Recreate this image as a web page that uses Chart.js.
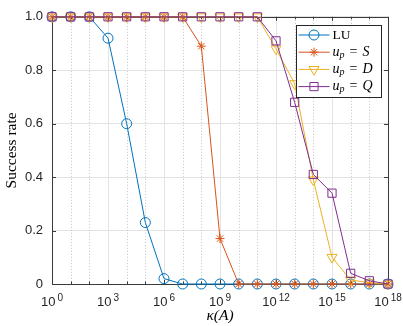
<!DOCTYPE html>
<html>
<head>
<meta charset="utf-8">
<script src="https://cdn.jsdelivr.net/npm/chart.js@4/dist/chart.umd.min.js"></script>
<style>
  html, body { margin: 0; padding: 0; background: #fff; }
</style>
</head>
<body>
<canvas id="grafica" width="403" height="326"></canvas>
<script>
// kappa(A) values, one per decade
const kappa = [1e0, 1e1, 1e2, 1e3, 1e4, 1e5, 1e6, 1e7, 1e8, 1e9,
               1e10, 1e11, 1e12, 1e13, 1e14, 1e15, 1e16, 1e17, 1e18];

// success rate
const exitoLU = [1, 1, 1, 0.92, 0.60, 0.23, 0.02, 0, 0, 0, 0, 0, 0, 0, 0, 0, 0, 0, 0];
const exitoS  = [1, 1, 1, 1, 1, 1, 1, 1, 0.89, 0.17, 0, 0, 0, 0, 0, 0, 0, 0, 0];
const exitoD  = [1, 1, 1, 1, 1, 1, 1, 1, 1, 1, 1, 1, 0.88, 0.75, 0.39, 0.10, 0.015, 0.005, 0];
const exitoQ  = [1, 1, 1, 1, 1, 1, 1, 1, 1, 1, 1, 1, 0.91, 0.68, 0.41, 0.34, 0.04, 0.012, 0];

const nombres = ["LU", "u_p = S", "u_p = D", "u_p = Q"];
const series = [exitoLU, exitoS, exitoD, exitoQ];

const colores = ["#0072BD", "#D95319", "#EDB120", "#7E2F8E"];
const marcadores = ["circle", "star", "triangle", "rect"];
const radios = [5, 4.5, 5.8, 5.8];
const rotaciones = [0, 0, 180, 0];

const ticksY = [0, 0.2, 0.4, 0.6, 0.8, 1];

function exponente(v) {
  return Math.round(Math.log10(v));
}

// dotted minor grid, inward ticks, the box round the axes and the x labels
const pluginEjes = {
  id: "ejes",
  beforeDatasetsDraw(chart) {
    const { ctx, chartArea: a, scales } = chart;
    ctx.save();
    ctx.lineWidth = 1;
    ctx.strokeStyle = "#c4c4c4";
    ctx.setLineDash([1, 2]);
    kappa.forEach((k) => {
      if (exponente(k) % 3 === 0) return;
      const x = Math.round(scales.x.getPixelForValue(k)) + 0.5;
      ctx.beginPath();
      ctx.moveTo(x, a.top);
      ctx.lineTo(x, a.bottom);
      ctx.stroke();
    });
    ctx.setLineDash([]);

    ctx.strokeStyle = "#3a3a3a";
    kappa.forEach((k) => {
      const x = Math.round(scales.x.getPixelForValue(k)) + 0.5;
      const largo = exponente(k) % 3 === 0 ? 4 : 2.5;
      ctx.beginPath();
      ctx.moveTo(x, a.bottom);
      ctx.lineTo(x, a.bottom - largo);
      ctx.moveTo(x, a.top);
      ctx.lineTo(x, a.top + largo);
      ctx.stroke();
    });
    ticksY.forEach((t) => {
      const y = Math.round(scales.y.getPixelForValue(t)) + 0.5;
      ctx.beginPath();
      ctx.moveTo(a.left, y);
      ctx.lineTo(a.left + 4, y);
      ctx.moveTo(a.right, y);
      ctx.lineTo(a.right - 4, y);
      ctx.stroke();
    });
    ctx.strokeRect(Math.round(a.left) + 0.5, Math.round(a.top) + 0.5,
                   Math.round(a.right - a.left), Math.round(a.bottom - a.top));

    // 10^e labels with a raised exponent
    ctx.fillStyle = "#262626";
    ctx.textAlign = "left";
    ctx.textBaseline = "alphabetic";
    kappa.forEach((k) => {
      const e = exponente(k);
      if (e % 3 !== 0) return;
      const x = scales.x.getPixelForValue(k);
      ctx.font = '13px "Liberation Sans"';
      const anchoBase = ctx.measureText("10").width;
      ctx.font = '10px "Liberation Sans"';
      const anchoExp = ctx.measureText(String(e)).width;
      const inicio = x - (anchoBase + 2 + anchoExp) / 2;
      ctx.font = '13px "Liberation Sans"';
      ctx.fillText("10", inicio, a.bottom + 22);
      ctx.font = '10px "Liberation Sans"';
      ctx.fillText(String(e), inicio + anchoBase + 2, a.bottom + 16.5);
    });
    ctx.restore();
  },
};

function dibujarNombre(ctx, texto, x, y) {
  if (texto.indexOf("_") < 0) {
    ctx.font = '13.5px "Liberation Serif"';
    ctx.fillText(texto, x, y);
    return;
  }
  const partes = texto.split(" = ");
  const base = partes[0].split("_");
  ctx.font = 'italic 14px "Liberation Serif"';
  ctx.fillText(base[0], x, y);
  x += ctx.measureText(base[0]).width;
  ctx.font = 'italic 10px "Liberation Serif"';
  ctx.fillText(base[1], x, y + 3);
  x += ctx.measureText(base[1]).width + 5;
  ctx.font = '14px "Liberation Serif"';
  ctx.fillText("=", x, y);
  x += ctx.measureText("=").width + 5;
  ctx.font = 'italic 14px "Liberation Serif"';
  ctx.fillText(partes[1], x, y);
}

const pluginLeyenda = {
  id: "leyenda",
  afterDraw(chart) {
    const { ctx, chartArea: a } = chart;
    const ancho = 85, alto = 72;
    const x0 = Math.round(a.right - 7 - ancho) + 0.5;
    const y0 = Math.round(a.top + 8) + 0.5;
    ctx.save();
    ctx.fillStyle = "#fff";
    ctx.fillRect(x0, y0, ancho, alto);
    ctx.strokeStyle = "#262626";
    ctx.lineWidth = 1;
    ctx.strokeRect(x0, y0, ancho, alto);
    nombres.forEach((n, i) => {
      const y = y0 + 9.5 + i * 17.2;
      ctx.strokeStyle = colores[i];
      ctx.fillStyle = "rgba(0,0,0,0)";
      ctx.lineWidth = 1;
      ctx.beginPath();
      ctx.moveTo(x0 + 2, y);
      ctx.lineTo(x0 + 33, y);
      ctx.stroke();
      Chart.helpers.drawPoint(ctx, {
        pointStyle: marcadores[i],
        radius: radios[i],
        rotation: rotaciones[i],
        borderWidth: 1,
      }, x0 + 17.5, y);
      ctx.fillStyle = "#000";
      ctx.textBaseline = "middle";
      ctx.textAlign = "left";
      dibujarNombre(ctx, n, x0 + 36, y);
    });
    ctx.restore();
  },
};

const ctx = document.getElementById("grafica").getContext("2d");
new Chart(ctx, {
  type: "line",
  data: {
    datasets: series.map((valores, i) => ({
      label: nombres[i],
      data: kappa.map((k, j) => ({ x: k, y: valores[j] })),
      borderColor: colores[i],
      backgroundColor: "rgba(0,0,0,0)",
      borderWidth: 1,
      pointStyle: marcadores[i],
      pointRadius: radios[i],
      pointRotation: rotaciones[i],
      pointBorderWidth: 1,
      pointBackgroundColor: "rgba(0,0,0,0)",
      pointBorderColor: colores[i],
      tension: 0,
      clip: false,
      order: series.length - i,
    })),
  },
  options: {
    responsive: false,
    animation: false,
    devicePixelRatio: 1,
    layout: { padding: { top: 12, right: 15, left: 0, bottom: 0 } },
    plugins: {
      legend: { display: false },
      tooltip: { enabled: false },
    },
    scales: {
      x: {
        type: "logarithmic",
        min: 1,
        max: 1e18,
        afterBuildTicks: (eje) => {
          eje.ticks = kappa.map((k) => ({ value: k }));
        },
        afterFit: (eje) => {
          eje.height = 42;
        },
        ticks: { display: false, autoSkip: false },
        grid: {
          drawTicks: false,
          color: (c) => (c.tick && exponente(c.tick.value) % 3 === 0 ? "#e3e3e3" : "rgba(0,0,0,0)"),
        },
        border: { display: false },
        title: {
          display: true,
          text: "κ(A)",
          color: "#000",
          padding: { top: 1, bottom: 1 },
          font: { family: "Liberation Serif", size: 15.5, style: "italic" },
        },
      },
      y: {
        min: 0,
        max: 1,
        afterBuildTicks: (eje) => {
          eje.ticks = ticksY.map((t) => ({ value: t }));
        },
        afterFit: (eje) => {
          eje.width = 52;
        },
        ticks: {
          padding: 9,
          color: "#262626",
          font: { family: "Liberation Sans", size: 13 },
        },
        grid: { drawTicks: false, color: "#e3e3e3" },
        border: { display: false },
        title: {
          display: true,
          text: "Success rate",
          color: "#000",
          padding: { top: 3, bottom: 0 },
          font: { family: "Liberation Serif", size: 15.5 },
        },
      },
    },
  },
  plugins: [pluginEjes, pluginLeyenda],
});
</script>
</body>
</html>
